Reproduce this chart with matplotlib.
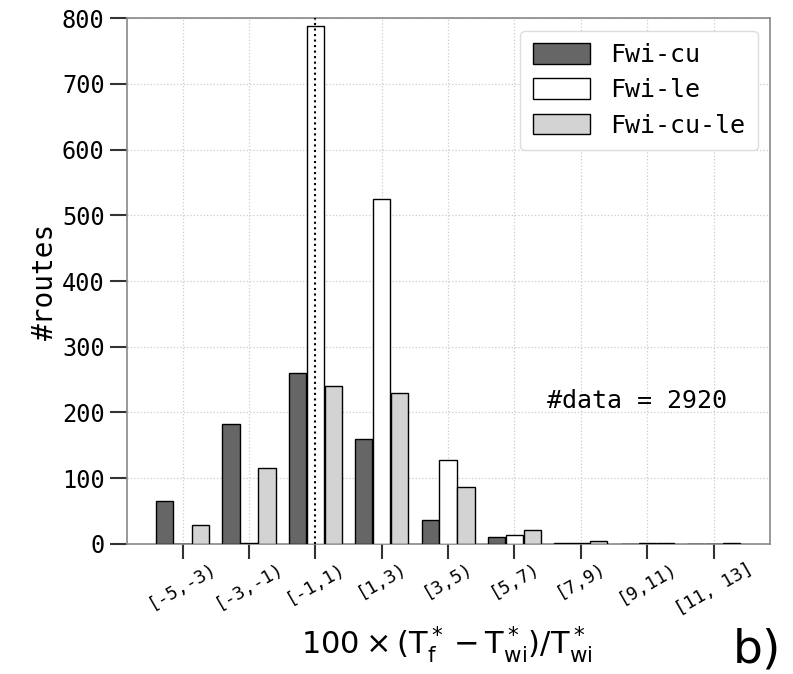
import matplotlib
matplotlib.use("Agg")
import matplotlib.pyplot as plt
import numpy as np

bins = ["[-5,-3)", "[-3,-1)", "[-1,1)", "[1,3)", "[3,5)", "[5,7)", "[7,9)", "[9,11)", "[11, 13]"]
fwi_cu = [65, 182, 260, 160, 37, 11, 1, 0, 0]
fwi_le = [0, 2, 788, 525, 128, 13, 2, 2, 0]
fwi_cu_le = [29, 115, 240, 230, 86, 21, 4, 1, 2]
n_data = 2920

mono = "DejaVu Sans Mono"

fig = plt.figure(figsize=(7.93, 6.74), dpi=100)
ax = fig.add_axes([0.160, 0.193, 0.811, 0.780])

x = np.arange(len(bins))
w = 0.26
off = 0.27
ax.bar(x - off, fwi_cu, w, color="#666666", edgecolor="black", linewidth=1, label="Fwi-cu", zorder=3)
ax.bar(x, fwi_le, w, color="white", edgecolor="black", linewidth=1, label="Fwi-le", zorder=3)
ax.bar(x + off, fwi_cu_le, w, color="#d3d3d3", edgecolor="black", linewidth=1, label="Fwi-cu-le", zorder=3)

ax.axvline(2, color="black", linestyle=":", linewidth=1.5, zorder=4)

ax.set_xlim(-0.84, 8.85)
ax.set_ylim(0, 800)
ax.set_yticks(range(0, 801, 100))
ax.set_xticks(x)
ax.set_xticklabels(bins, rotation=30, fontsize=13, family=mono)
for lab in ax.get_yticklabels():
    lab.set_family(mono)
    lab.set_fontsize(17)

ax.grid(True, linestyle=":", color="#cccccc", linewidth=0.9, zorder=0)
for s in ax.spines.values():
    s.set_color("#888888")
    s.set_linewidth(1.2)
ax.tick_params(axis="y", length=12, width=1.5, color="#333333", pad=4)
ax.tick_params(axis="x", length=11, width=1.5, color="#333333", pad=0)

ax.set_ylabel("#routes", fontsize=20, family=mono, labelpad=2)
ax.set_xlabel(r"$100 \times (\mathrm{T}_\mathrm{f}^* - \mathrm{T}_\mathrm{wi}^*)/\mathrm{T}_\mathrm{wi}^*$",
              fontsize=22)
ax.xaxis.set_label_coords(0.497, -0.152)

ax.text(0.654, 0.258, f"#data = {n_data}", transform=ax.transAxes, fontsize=18, family=mono)

leg = ax.legend(loc="upper right", prop={"family": mono, "size": 18},
                handlelength=2.3, handleheight=0.9, borderpad=0.5, labelspacing=0.45,
                fancybox=True, framealpha=1, edgecolor="#dddddd")
leg.set_zorder(5)

fig.text(0.985, 0.002, "b)", fontsize=34, ha="right", va="bottom")

fig.savefig("out.png", dpi=100)
